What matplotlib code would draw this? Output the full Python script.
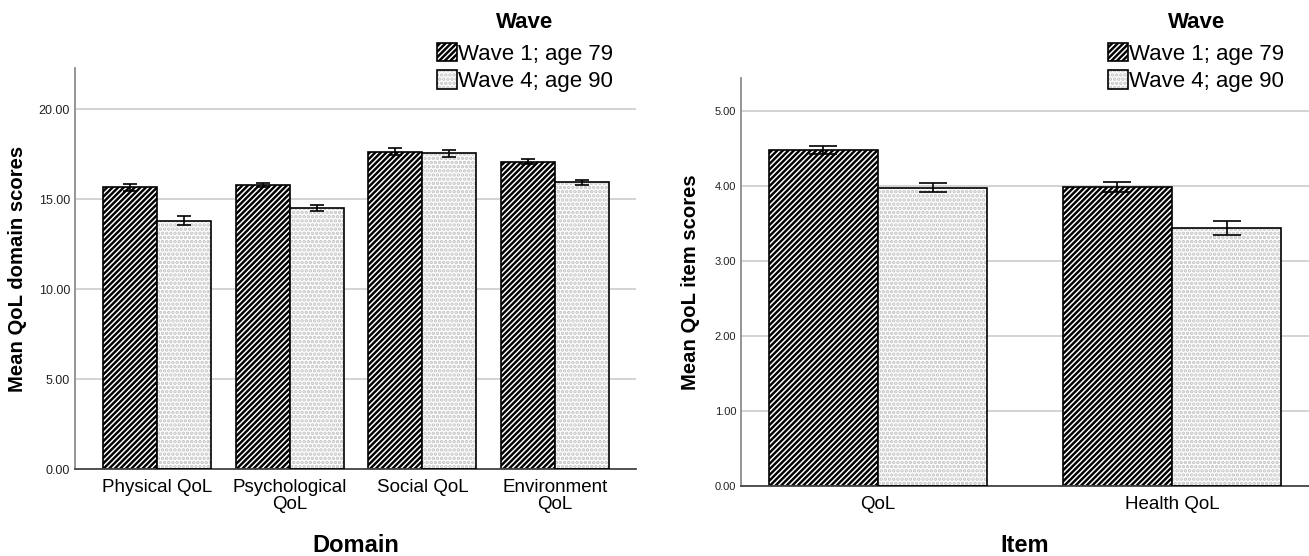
import numpy as np
import matplotlib
matplotlib.use("Agg")
import matplotlib.pyplot as plt
from matplotlib.patches import Patch

plt.rcParams['font.family'] = ['Liberation Sans', 'DejaVu Sans']
plt.rcParams['hatch.linewidth'] = 1.75

# data
domains = ['Physical QoL', 'Psychological\nQoL', 'Social QoL', 'Environment\nQoL']
domain_w1 = [15.65, 15.76, 17.63, 17.07]
domain_w1_err = [0.18, 0.11, 0.18, 0.14]
domain_w4 = [13.79, 14.50, 17.54, 15.94]
domain_w4_err = [0.24, 0.18, 0.20, 0.14]

items = ['QoL', 'Health QoL']
item_w1 = [4.48, 3.99]
item_w1_err = [0.053, 0.065]
item_w4 = [3.98, 3.44]
item_w4_err = [0.065, 0.09]

wave_labels = ['Wave 1; age 79', 'Wave 4; age 90']
W, H = 1309, 556
STRIPES = '//////'
DOTS = '....'
DOT_COLOR = '#c2c2c2'


def thin_hatch(p, lw=0.25):
    orig = p.draw

    def draw(renderer):
        with plt.rc_context({'hatch.linewidth': lw}):
            orig(renderer)
    p.draw = draw


def panel(ax, cats, w1, e1, w4, e4, width, xlim, capsize, ymax, ticks,
          ylabel, xlabel, tick_fs):
    x = np.arange(len(cats))
    ax.bar(x - width / 2, w1, width, facecolor='white', edgecolor='black',
           hatch=STRIPES, linewidth=1.2, zorder=2)
    b4 = ax.bar(x + width / 2, w4, width, facecolor='white', edgecolor=DOT_COLOR,
                hatch=DOTS, linewidth=0, zorder=2)
    for p in b4:
        thin_hatch(p)
    ax.bar(x + width / 2, w4, width, fill=False, edgecolor='black', linewidth=1.2, zorder=3)
    ax.errorbar(x - width / 2, w1, yerr=e1, fmt='none', ecolor='black',
                elinewidth=1.2, capsize=capsize, capthick=1.2, zorder=4)
    ax.errorbar(x + width / 2, w4, yerr=e4, fmt='none', ecolor='black',
                elinewidth=1.2, capsize=capsize, capthick=1.2, zorder=4)

    ax.set_xlim(*xlim)
    ax.set_ylim(0, ymax)
    ax.set_yticks(ticks)
    ax.set_yticklabels(['%.2f' % t for t in ticks], fontsize=tick_fs, color='#222222')
    ax.set_xticks(x)
    ax.set_xticklabels(cats, fontsize=13.5, linespacing=1.05)
    ax.tick_params(axis='both', length=0)
    ax.tick_params(axis='y', pad=3.5)
    ax.tick_params(axis='x', pad=7)
    ax.yaxis.grid(True, color='#cccccc', linewidth=1.2)
    ax.set_axisbelow(True)
    for s in ['top', 'right']:
        ax.spines[s].set_visible(False)
    ax.spines['left'].set_color('#8c8c8c')
    ax.spines['left'].set_linewidth(1.3)
    ax.spines['bottom'].set_color('#444444')
    ax.spines['bottom'].set_linewidth(1.3)
    ax.set_ylabel(ylabel, fontsize=14.6, fontweight='bold')
    ax.set_xlabel(xlabel, fontsize=17, fontweight='bold')


fig = plt.figure(figsize=(W / 100, H / 100), dpi=100)
ax1 = fig.add_axes([75 / W, 1 - 469 / H, 561 / W, 401 / H])
ax2 = fig.add_axes([741 / W, 1 - 486 / H, 568 / W, 408 / H])

panel(ax1, domains, domain_w1, domain_w1_err, domain_w4, domain_w4_err,
      0.407, (-0.618, 3.61), 4.7, 22.28, [0, 5, 10, 15, 20],
      'Mean QoL domain scores', 'Domain', 9)
panel(ax2, items, item_w1, item_w1_err, item_w4, item_w4_err,
      0.371, (-0.466, 1.466), 10, 5.44, [0, 1, 2, 3, 4, 5],
      'Mean QoL item scores', 'Item', 8)

ax1.yaxis.set_label_coords(-(75 - 27) / 561, 0.5)
ax2.yaxis.set_label_coords(-(741 - 700) / 568, 0.5)
ax1.xaxis.set_label_coords(0.5, -(546 - 469) / 401)
ax2.xaxis.set_label_coords(0.5, -(545 - 486) / 408)
ax1.xaxis.label.set_va('center')
ax2.xaxis.label.set_va('center')

# legends: title as separate text, entries below it
h1 = Patch(facecolor='white', edgecolor='black', hatch=STRIPES, linewidth=1.2)
h4a = Patch(facecolor='white', edgecolor=DOT_COLOR, hatch=DOTS, linewidth=0)
h4b = Patch(fill=False, edgecolor='black', linewidth=1.2)
for lx, tx in [(437, 525), (1108, 1197)]:
    fig.text(tx / W, 1 - 23 / H, 'Wave', fontsize=16, fontweight='bold',
             ha='center', va='center')
    leg = fig.legend([h1, (h4a, h4b)], wave_labels, loc='upper left',
                     bbox_to_anchor=(lx / W, 1 - 43 / H), frameon=False,
                     fontsize=16, borderpad=0, borderaxespad=0,
                     handlelength=0.9, handleheight=0.9, handletextpad=0.05,
                     labelspacing=0.24)
    for p in leg.findobj(Patch):
        if p.get_hatch() == DOTS:
            thin_hatch(p)

fig.savefig('out.png', dpi=100)
